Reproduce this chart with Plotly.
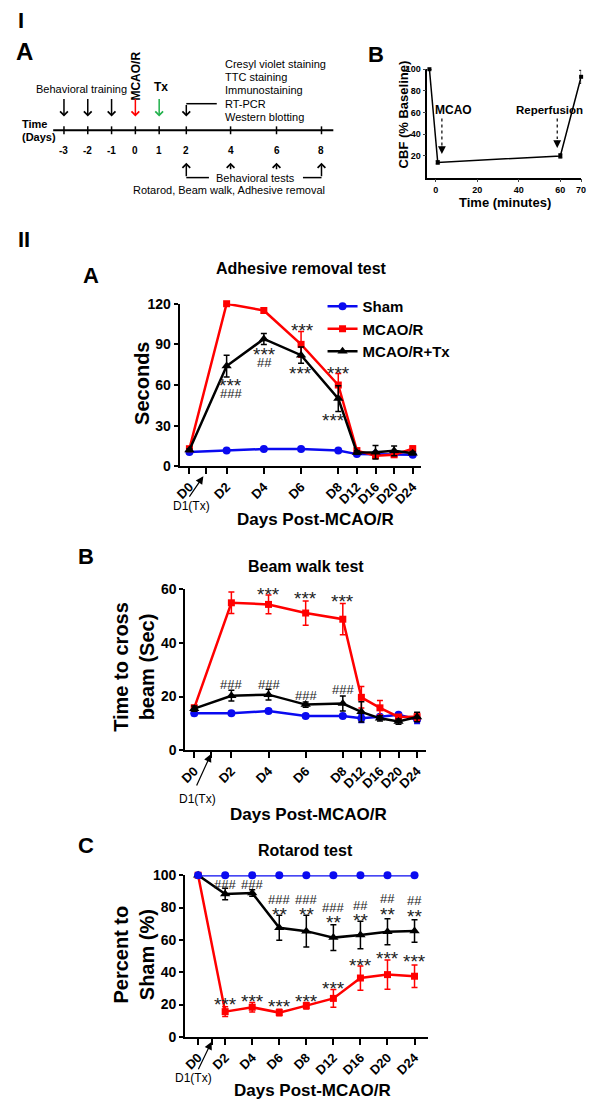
import plotly.graph_objects as go

# page body has an 8px margin: the figure is sized so that the page fits the window
OFF = 8
W, H = 600 - 2 * OFF, 1109 - 2 * OFF
def px_x(p): return (p - OFF) / W
def px_y(p): return 1 - (p - OFF) / H

FONT = "Arial, Liberation Sans, Helvetica, sans-serif"
BLUE = "#0a0af0"; RED = "#ff0000"; BLACK = "#000000"; GREEN = "#22b14c"

# ---------------- Panel I-B : CBF ----------------
cbf_time = [-3, 1, 60, 70]
cbf_vals = [100, 14, 20, 93]
cbf_err = [0, 1.5, 2, 6]
cbf_xticks = [0, 20, 40, 60, 70]
cbf_yticks = [20, 40, 60, 80, 100]

# ---------------- Panel I-A : timeline ----------------
timeline_days = ["-3", "-2", "-1", "0", "1", "2", "4", "6", "8"]
timeline_slot = [0, 1, 2, 3, 4, 5.14, 7.0, 8.93, 10.82]
timeline_right = ["Cresyl violet staining", "TTC staining", "Immunostaining", "RT-PCR", "Western blotting"]

# ---------------- Panel II ----------------
days = ["D0", "D2", "D4", "D6", "D8", "D12", "D16", "D20", "D24"]
pos_ab = [0, 2, 4, 6, 8, 9, 10, 11, 12]     # broken x axis in A and B
pos_c = [0, 1, 2, 3, 4, 5, 6, 7, 8]         # even spacing in C
d1_ab = 0.9
d1_c = 0.5

# A: Adhesive removal test (seconds)
sham_adh = [10.5, 11.6, 12.8, 12.8, 11.6, 9.0, 9.0, 9.0, 8.5]
sham_adh_err = [0.6, 0.6, 0.6, 0.6, 0.6, 0.6, 0.6, 0.6, 0.6]
mcao_adh = [13, 120, 115, 90, 60, 11.6, 7.8, 8.5, 13]
mcao_adh_err = [1, 0.8, 2, 9.5, 8.5, 1.5, 1.5, 1.5, 2]
tx_adh = [12, 74, 94, 82, 50, 10.2, 10.4, 11.4, 9.7]
tx_adh_err = [1, 8, 4, 6, 9.5, 1.2, 5, 3.6, 1.2]

# B: Beam walk test (sec)
sham_beam = [13.8, 13.8, 14.6, 12.8, 12.8, 11.9, 12.5, 13.2, 11.5]
sham_beam_err = [0.8, 0.6, 0.6, 0.6, 0.6, 1.5, 0.6, 0.6, 1.5]
mcao_beam = [15.8, 54.8, 54.2, 51.0, 48.7, 19.7, 15.8, 12.4, 12.5]
mcao_beam_err = [1, 4, 3.5, 4.5, 5.8, 4, 2.7, 0.8, 1.5]
tx_beam = [15.5, 20.3, 20.7, 17.0, 17.4, 14.3, 11.9, 10.7, 12.4]
tx_beam_err = [1, 2, 2, 1, 2.8, 3.8, 1, 1, 1.8]

# C: Rotarod test (% of sham)
sham_rot = [100, 100, 100, 100, 100, 100, 100, 100, 100]
mcao_rot = [100, 15.6, 18.3, 15.0, 19.3, 23.8, 36.4, 38.5, 37.5]
mcao_rot_err = [0, 3, 3, 2, 2, 5.5, 7.5, 9, 7]
tx_rot = [100, 88.4, 89.0, 67.5, 65.4, 61.4, 63.0, 65.0, 65.5]
tx_rot_err = [0, 3.5, 2, 7.7, 9.8, 8, 8.5, 8, 7]

# significance marks: (day, y, text, xshift)
adh_sig = [("D2", 125.8, "***", 0), ("D4", 120.7, "***", 0), ("D6", 103.3, "***", 1), ("D8", 71.3, "***", 0),
           ("D2", 62.3, "***", 4), ("D2", 54.0, "###", 4), ("D4", 85.5, "***", 1), ("D4", 76.5, "##", 1),
           ("D6", 71.3, "***", -1), ("D8", 37, "***", -5)]
beam_sig = [("D2", 61.2, "***", 0), ("D4", 59.5, "***", 0), ("D6", 57.9, "***", 0), ("D8", 56.7, "***", 0),
            ("D2", 24.4, "###", 0), ("D4", 24.6, "###", 0), ("D6", 20.5, "###", 0), ("D8", 22.5, "###", 0)]
rot_sig = [("D2", 94.3, "###", 0), ("D4", 94.3, "###", 0), ("D6", 85.2, "###", 0), ("D8", 85.2, "###", 0),
           ("D12", 80.1, "###", 0), ("D16", 81.5, "##", 0), ("D20", 85.8, "##", 0), ("D24", 84.5, "##", 0),
           ("D6", 78.3, "**", 0), ("D8", 78.3, "**", 0), ("D12", 73.2, "**", 0), ("D16", 74.2, "**", 0),
           ("D20", 78.3, "**", 0), ("D24", 77.0, "**", 0),
           ("D2", 22.7, "***", 0), ("D4", 24.2, "***", 0), ("D6", 21.2, "***", 0), ("D8", 24.2, "***", 0),
           ("D12", 32.3, "***", 0), ("D16", 46.5, "***", 0), ("D20", 51.2, "***", 0), ("D24", 48.8, "***", 0)]

fig = go.Figure()

def add_series(xs, ys, err, color, symbol, size, name, xa, ya, showlegend):
    fig.add_trace(go.Scatter(
        x=xs, y=ys, mode="lines+markers", name=name,
        line=dict(color=color, width=2.5),
        marker=dict(color=color, symbol=symbol, size=size),
        error_y=dict(type="data", array=err, visible=True, color=color, thickness=1.5, width=3),
        xaxis=xa, yaxis=ya, showlegend=showlegend, cliponaxis=False))

# CBF
fig.add_trace(go.Scatter(
    x=cbf_time, y=cbf_vals, mode="lines+markers", showlegend=False,
    line=dict(color="black", width=1.5), marker=dict(color="black", symbol="square", size=4),
    error_y=dict(type="data", array=cbf_err, color="black", thickness=1, width=2),
    xaxis="x", yaxis="y", cliponaxis=False))

# A
add_series(pos_ab, sham_adh, sham_adh_err, BLUE, "circle", 8, "Sham", "x2", "y2", True)
add_series(pos_ab, mcao_adh, mcao_adh_err, RED, "square", 7, "MCAO/R", "x2", "y2", True)
add_series(pos_ab, tx_adh, tx_adh_err, BLACK, "triangle-up", 9, "MCAO/R+Tx", "x2", "y2", True)
# B
add_series(pos_ab, sham_beam, sham_beam_err, BLUE, "circle", 8, "Sham", "x3", "y3", False)
add_series(pos_ab, mcao_beam, mcao_beam_err, RED, "square", 7, "MCAO/R", "x3", "y3", False)
add_series(pos_ab, tx_beam, tx_beam_err, BLACK, "triangle-up", 9, "MCAO/R+Tx", "x3", "y3", False)
# C
add_series(pos_c, mcao_rot, mcao_rot_err, RED, "square", 7, "MCAO/R", "x4", "y4", False)
add_series(pos_c, tx_rot, tx_rot_err, BLACK, "triangle-up", 9, "MCAO/R+Tx", "x4", "y4", False)
add_series(pos_c, sham_rot, [0] * 9, BLUE, "circle", 8, "Sham", "x4", "y4", False)

def xaxis_panel(dom, rng, tickvals, ticktext, anchor):
    return dict(domain=dom, range=rng, tickvals=tickvals, ticktext=ticktext, tickangle=-45,
                showline=True, linewidth=2, linecolor="black", ticks="outside", ticklen=6,
                tickwidth=2, tickcolor="black", showgrid=False, zeroline=False, anchor=anchor,
                tickfont=dict(family=FONT, size=13, color="black", weight="bold"))

def yaxis_panel(dom, rng, tickvals, anchor):
    return dict(domain=dom, range=rng, tickvals=tickvals, showline=True, linewidth=2,
                linecolor="black", ticks="outside", ticklen=4, tickwidth=2, tickcolor="black",
                showgrid=False, zeroline=False, anchor=anchor,
                tickfont=dict(family=FONT, size=14, color="black", weight="bold"))

ab_tickvals = [pos_ab[0], d1_ab] + pos_ab[1:]
ab_ticktext = [days[0], ""] + days[1:]
c_tickvals = [pos_c[0], d1_c] + pos_c[1:]
c_ticktext = [days[0], ""] + days[1:]

fig.update_layout(
    width=W, height=H, margin=dict(l=0, r=0, t=0, b=0),
    paper_bgcolor="white", plot_bgcolor="rgba(0,0,0,0)",
    font=dict(family=FONT, color="black"),
    xaxis=dict(domain=[px_x(429), px_x(586)], range=[-4, 70], tickvals=cbf_xticks,
               showline=True, linewidth=1.5, linecolor="black", ticks="outside", ticklen=3,
               tickwidth=1.2, showgrid=False, zeroline=False, anchor="y",
               tickfont=dict(family=FONT, size=9, color="black", weight="bold")),
    yaxis=dict(domain=[px_y(172), px_y(62)], range=[0, 100], tickvals=cbf_yticks,
               showline=True, linewidth=1.5, linecolor="black", ticks="outside", ticklen=3,
               tickwidth=1.2, showgrid=False, zeroline=False, anchor="x",
               tickfont=dict(family=FONT, size=9, color="black", weight="bold")),
    xaxis2=xaxis_panel([px_x(176), px_x(423)], [-0.53, 12.47], ab_tickvals, ab_ticktext, "y2"),
    yaxis2=yaxis_panel([px_y(465), px_y(300)], [0, 120], [0, 30, 60, 90, 120], "x2"),
    xaxis3=xaxis_panel([px_x(182), px_x(428)], [-0.475, 12.5], ab_tickvals, ab_ticktext, "y3"),
    yaxis3=yaxis_panel([px_y(753.3), px_y(589.3)], [0, 60], [0, 20, 40, 60], "x3"),
    xaxis4=xaxis_panel([px_x(181.7), px_x(430)], [-0.48, 8.51], c_tickvals, c_ticktext, "y4"),
    yaxis4=yaxis_panel([px_y(1044), px_y(880)], [0, 100], [0, 20, 40, 60, 80, 100], "x4"),
    legend=dict(x=px_x(322), y=px_y(286), xanchor="left", yanchor="top",
                font=dict(family=FONT, size=15, color="black", weight="bold"),
                bgcolor="rgba(0,0,0,0)", itemwidth=30, tracegroupgap=0),
)

annotations = []
shapes = []

def text(t, x, y, size, bold=False, angle=0, xanchor="center", color="black",
         xref="paper", yref="paper", xshift=0, yshift=0, family=FONT):
    xv = px_x(x) if xref == "paper" else x
    yv = px_y(y) if yref == "paper" else y
    annotations.append(dict(text=("<b>%s</b>" % t) if bold else t, x=xv, y=yv, xref=xref, yref=yref,
                            showarrow=False, textangle=angle, xanchor=xanchor, yanchor="middle",
                            font=dict(family=family, size=size, color=color),
                            xshift=xshift, yshift=yshift))

def arrow(x, y, ax, ay, color="black", head=4, width=1.5, size=1.0, xref="paper", yref="paper"):
    annotations.append(dict(text="", x=x, y=y, xref=xref, yref=yref, ax=ax, ay=ay,
                            showarrow=True, arrowhead=head, arrowwidth=width, arrowsize=size,
                            arrowcolor=color))

def hline(x0, x1, y, width=1.5, color="black"):
    shapes.append(dict(type="line", xref="paper", yref="paper", x0=px_x(x0), x1=px_x(x1),
                       y0=px_y(y), y1=px_y(y), line=dict(color=color, width=width)))

# ---------- Part I ----------
text("I", 9, 13, 22, bold=True, xanchor="left")
text("A", 18, 44, 24, bold=True)
text("B", 377, 47, 22, bold=True)

def tl(i):
    return 58 + 24.3 * timeline_slot[i]

hline(47, 333, 124, width=2)
for i, d in enumerate(timeline_days):
    shapes.append(dict(type="line", xref="paper", yref="paper", x0=px_x(tl(i)), x1=px_x(tl(i)),
                       y0=px_y(120), y1=px_y(128), line=dict(color="black", width=1.5)))
    text(d, tl(i), 145, 10, bold=True)

text("Time", 13, 118, 11, bold=True, xanchor="left")
text("(Days)", 13, 131, 11, bold=True, xanchor="left")
text("Behavioral training", 76, 82, 11)
text("MCAO/R", 132, 69, 12, bold=True, angle=-90)
text("Tx", 157, 80, 12, bold=True)
down_colors = ["black", "black", "black", RED, GREEN]
for i, c in enumerate(down_colors):
    arrow(px_x(tl(i)), px_y(110), 0, -19, color=c)
# elbow arrow at day 2
hline(tl(5), 214, 97)
arrow(px_x(tl(5)), px_y(110), 0, -13)
for k, t in enumerate(timeline_right):
    text(t, 220, 57 + 13.3 * k, 11, xanchor="left")
# behavioral tests arrows below
arrow(px_x(tl(5)), px_y(157), 0, 15)
arrow(px_x(tl(6)), px_y(157), 0, 8)
arrow(px_x(tl(7)), px_y(157), 0, 8)
arrow(px_x(tl(8)), px_y(157), 0, 15)
hline(tl(5), 206, 172)
hline(302, tl(8), 172)
text("Behavioral tests", 254, 172, 11)
text("Rotarod, Beam walk, Adhesive removal", 226, 185, 11)

# CBF panel texts
text("CBF (% Baseline)", 405, 108, 13, bold=True, angle=-90)
text("Time (minutes)", 508, 197, 13, bold=True)
text("MCAO", 8.5, 62.7, 12, bold=True, xref="x", yref="y")
text("Reperfusion", 590, 103, 11.5, bold=True, xanchor="right")
for xv, y0, y1, tip in [(3, 54.5, 29, 21.8), (58.5, 54.5, 35.5, 27.3)]:
    shapes.append(dict(type="line", xref="x", yref="y", x0=xv, x1=xv, y0=y0, y1=y1,
                       line=dict(color="black", width=1.2, dash="dot")))
    arrow(xv, tip, 0, -9, head=2, width=1.2, size=1.3, xref="x", yref="y")

# ---------- Part II ----------
text("II", 9, 235, 22, bold=True, xanchor="left")
text("A", 86, 271, 22, bold=True)
text("B", 80, 557, 22, bold=True)
text("C", 80, 850, 22, bold=True)

text("Adhesive removal test", 300, 264, 16, bold=True)
text("Beam walk test", 305, 567, 16, bold=True)
text("Rotarod test", 305, 855, 16, bold=True)

text("Seconds", 137, 381, 20, bold=True, angle=-90)
text("Time to cross<br>beam (Sec)", 130, 668, 20, bold=True, angle=-90)
text("Percent to<br>Sham (%)", 130, 960, 20, bold=True, angle=-90)

text("Days Post-MCAO/R", 315, 519, 17, bold=True)
text("Days Post-MCAO/R", 308, 818, 17, bold=True)
text("Days Post-MCAO/R", 312, 1098, 17, bold=True)

# D1(Tx) markers
arrow(d1_ab - 0.15, px_y(475), -15, 22, head=2, width=1.2, size=1.3, xref="x2")
text("D1(Tx)", d1_ab - 0.8, 505, 12, xref="x2")
arrow(d1_ab, px_y(757), -15, 33, head=2, width=1.2, size=1.3, xref="x3")
text("D1(Tx)", d1_ab - 0.75, 803, 12, xref="x3")
arrow(d1_c, px_y(1049), -14, 29, head=2, width=1.2, size=1.3, xref="x4")
text("D1(Tx)", -0.18, 1086, 12, xref="x4")

def sig_marks(marks, positions, xref, yref):
    for d, yv, t, xs in marks:
        xv = positions[days.index(d)]
        if "*" in t:
            annotations.append(dict(text=t, x=xv, y=yv, xref=xref, yref=yref, showarrow=False,
                                    font=dict(family=FONT, size=19, color="#222"),
                                    xshift=xs, yshift=-4))
        else:
            annotations.append(dict(text=t, x=xv, y=yv, xref=xref, yref=yref, showarrow=False,
                                    font=dict(family=FONT, size=13, color="#222"),
                                    xshift=xs))

sig_marks(adh_sig, pos_ab, "x2", "y2")
sig_marks(beam_sig, pos_ab, "x3", "y3")
sig_marks(rot_sig, pos_c, "x4", "y4")

fig.update_layout(annotations=annotations, shapes=shapes)
fig.write_html("out.html")
